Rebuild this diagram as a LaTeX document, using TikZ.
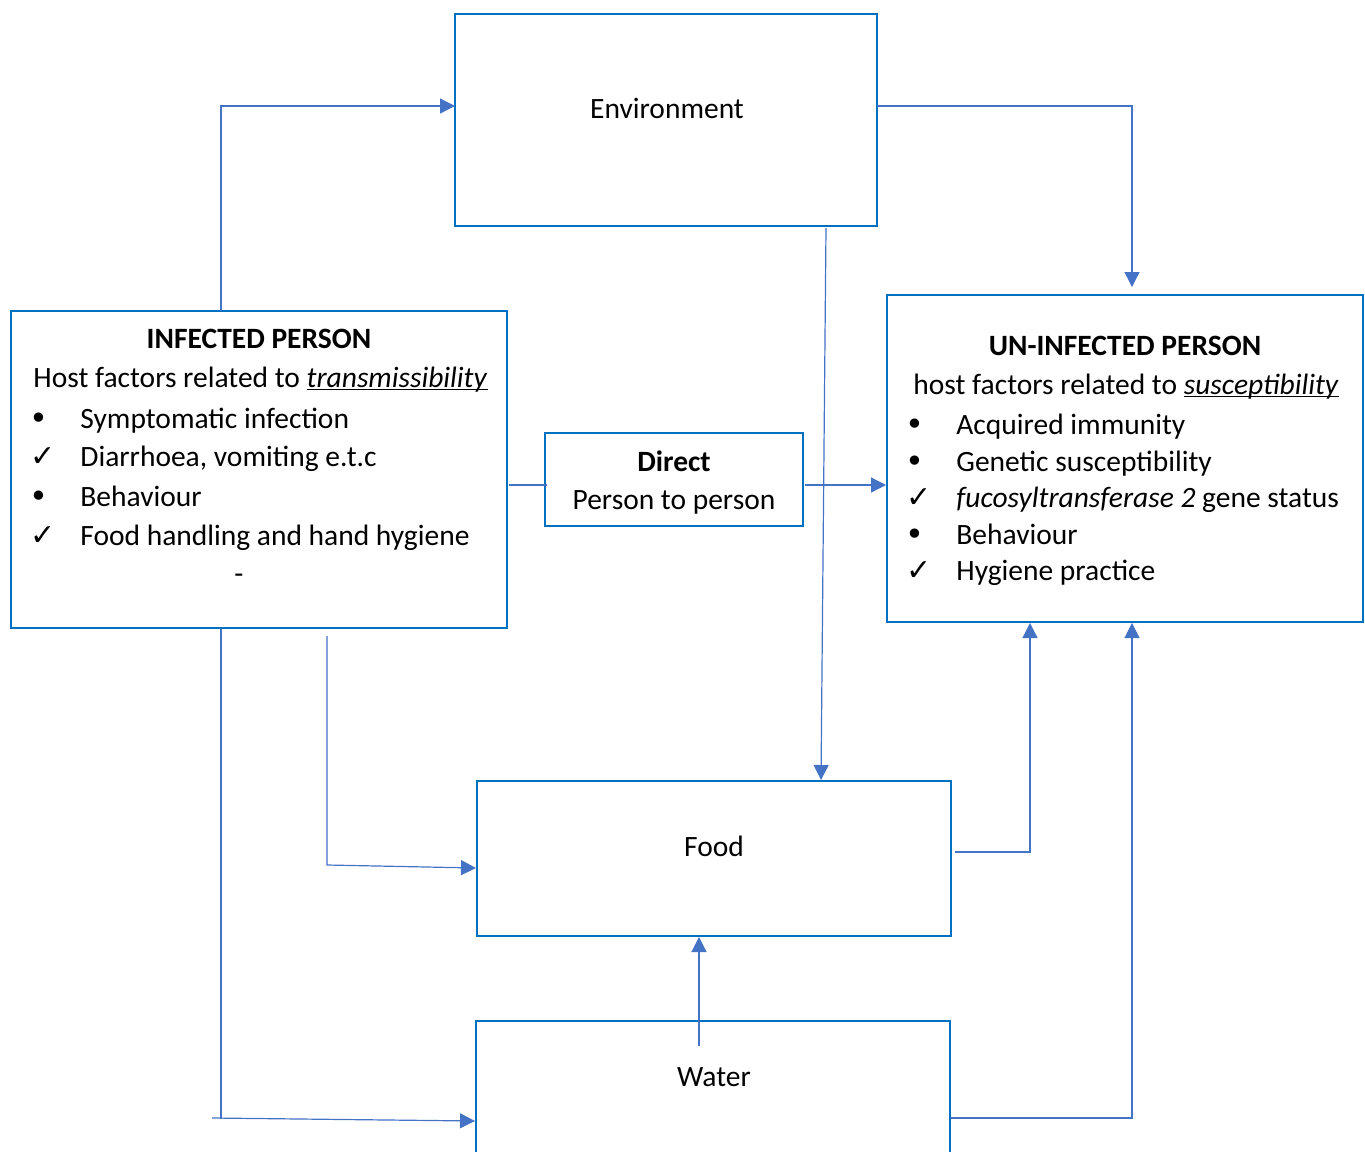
\documentclass[tikz,border=0pt]{standalone}
\usepackage{fontspec}
\setmainfont{Carlito}
\newfontfamily\symfont{DejaVu Sans}
\usetikzlibrary{arrows.meta,calc}

\definecolor{boxblue}{HTML}{0070C0}
\definecolor{linkblue}{HTML}{4472C4}

\newcommand{\bodysize}{\fontsize{14.75}{19}\selectfont}
\newcommand{\tick}{{\symfont\fontsize{15}{15}\selectfont ✓}}
\newcommand{\dotmark}{{\symfont\fontsize{16}{16}\selectfont •}}
\newsavebox{\ulinebox}
\newcommand{\ulined}[1]{\sbox{\ulinebox}{#1}\rlap{\rule[-1.6pt]{\wd\ulinebox}{0.6pt}}\usebox{\ulinebox}}

\tikzset{
  box/.style={draw=boxblue, line width=1.25pt, inner sep=0pt, outer sep=0pt, anchor=north west},
  link/.style={draw=linkblue, line width=0.6pt},
  arr/.style={link, -{Triangle[length=7.5pt,width=7.5pt]}},
  txt/.style={font=\bodysize, inner sep=0pt, anchor=base west},
  ctxt/.style={font=\bodysize, inner sep=0pt, anchor=base},
  bullet/.style={font=\bodysize, inner sep=0pt, anchor=base}
}

\begin{document}
\begin{tikzpicture}[x=0.5pt, y=-0.5pt]

  %%-- PAGE --%%
  \useasboundingbox (0,0) rectangle (1365,1151);

  %%-- BOXES --%%
  \node[box, minimum width=211pt, minimum height=106pt]   (env)   at (455,14)  {};
  \node[box, minimum width=248pt, minimum height=158.5pt] (inf)   at (11,311)  {};
  \node[box, minimum width=238pt, minimum height=163.5pt] (unf)   at (887,295) {};
  \node[box, minimum width=129pt, minimum height=46.5pt]  (dir)   at (545,433) {};
  \node[box, minimum width=237pt, minimum height=77.5pt]  (food)  at (477,781) {};
  \node[box, minimum width=237pt, minimum height=75pt]    (water) at (476,1021) {};

  %%-- SIMPLE LABELS --%%
  \node[ctxt] (envlabel)   at (667,118)  {Environment};
  \node[ctxt] (foodlabel)  at (714,856)  {Food};
  \node[ctxt] (waterlabel) at (714,1086) {Water};
  \node[ctxt] (dirtitle)   at (674,471)  {\textbf{Direct}};
  \node[ctxt] (dirtext)    at (674,509)  {Person to person};

  %%-- INFECTED PERSON --%%
  \node[ctxt] (inftitle) at (259,348) {\textbf{INFECTED PERSON}};
  \node[txt]  (infhost)  at (33,387)  {Host factors related to \ulined{\textit{transmissibility}}};
  \node[bullet] (infmA) at (39,429) {\dotmark};
  \node[txt]    (inftA) at (80,428) {Symptomatic infection};
  \node[bullet] (infmB) at (43,466) {\tick};
  \node[txt]    (inftB) at (80,466) {Diarrhoea, vomiting e.t.c};
  \node[bullet] (infmC) at (39,507) {\dotmark};
  \node[txt]    (inftC) at (80,506) {Behaviour};
  \node[bullet] (infmD) at (43,545) {\tick};
  \node[txt]    (inftD) at (80,545) {Food handling and hand hygiene};
  \node[ctxt] (infdash) at (239,583) {-};

  %%-- UN-INFECTED PERSON --%%
  \node[ctxt] (unftitle) at (1125,355) {\textbf{UN-INFECTED PERSON}};
  \node[txt]  (unfhost)  at (913,394)  {host factors related to \ulined{\textit{susceptibility}}};
  \node[bullet] (unfmA) at (915,435) {\dotmark};
  \node[txt]    (unftA) at (956,434) {Acquired immunity};
  \node[bullet] (unfmB) at (915,472) {\dotmark};
  \node[txt]    (unftB) at (956,471) {Genetic susceptibility};
  \node[bullet] (unfmC) at (919,507) {\tick};
  \node[txt]    (unftC) at (956,507) {\textit{fucosyltransferase 2} gene status};
  \node[bullet] (unfmD) at (915,545) {\dotmark};
  \node[txt]    (unftD) at (956,544) {Behaviour};
  \node[bullet] (unfmE) at (919,580) {\tick};
  \node[txt]    (unftE) at (956,580) {Hygiene practice};

  %%-- CONNECTORS --%%
  % infected -> environment
  \draw[arr] ($(inf.north west)+(210,0)$) |- ($(env.north west)+(0,92)$);
  % environment -> un-infected
  \draw[arr, shorten >=4pt] ($(env.north east)+(0,92)$) -| ($(unf.north west)+(245,0)$);
  % environment -> food
  \draw[arr] ($(env.south west)+(371,2)$) -- ($(food.north west)+(344,-1)$);
  % infected -> direct -> un-infected
  \draw[link] ($(inf.north east)+(2,174)$) -- ($(dir.north west)+(2,52)$);
  \draw[arr] ($(dir.north east)+(2,52)$) -- ($(unf.north west)+(-1,190)$);
  % infected -> water
  \draw[link] ($(inf.south west)+(210,1)$) -- ++(0,490);
  \draw[arr] ($(water.north west)+(-264,97)$) -- ($(water.north west)+(-1,100)$);
  % infected -> food
  \draw[arr] ($(inf.south west)+(316,8)$) -- ++(0,229) -- ($(food.north west)+(-1,87)$);
  % food -> un-infected
  \draw[arr] ($(food.north east)+(4,71)$) -| ($(unf.south west)+(143,1)$);
  % water -> un-infected
  \draw[arr] ($(water.north east)+(1,97)$) -| ($(unf.south west)+(245,1)$);
  % water -> food
  \draw[arr] ($(water.north west)+(223,25)$) -- ($(food.south west)+(222,1)$);

\end{tikzpicture}
\end{document}
